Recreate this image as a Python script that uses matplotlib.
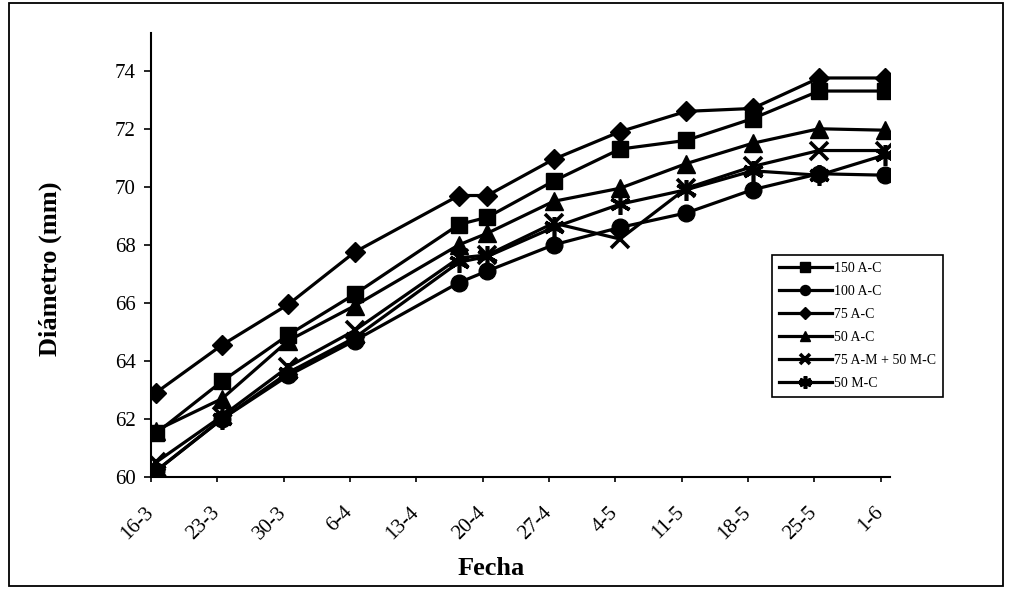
import pandas as pd
import matplotlib.pyplot as plt
from matplotlib.patches import Rectangle

#==============================
# Datos
#==============================
fechas = ["16-3", "23-3", "30-3", "6-4", "17-4", "20-4", "27-4", "4-5", "11-5", "18-5", "25-5", "1-6"]
etiquetas_x = ["16-3", "23-3", "30-3", "6-4", "13-4", "20-4", "27-4", "4-5", "11-5", "18-5", "25-5", "1-6"]

d150_AC = [61.5, 63.3, 64.9, 66.3, 68.7, 68.95, 70.2, 71.3, 71.6, 72.35, 73.3, 73.3]
d100_AC = [60.2, 62.0, 63.5, 64.7, 66.7, 67.1, 68.0, 68.6, 69.1, 69.9, 70.45, 70.4]
d75_AC = [62.9, 64.55, 65.95, 67.75, 69.7, 69.7, 70.95, 71.9, 72.6, 72.7, 73.75, 73.75]
d50_AC = [61.6, 62.7, 64.7, 65.9, 68.0, 68.4, 69.5, 69.95, 70.8, 71.5, 72.0, 71.95]
d75AM_50MC = [60.5, 62.1, 63.8, 65.05, 67.55, 67.65, 68.75, 68.2, 69.95, 70.7, 71.25, 71.25]
d50_MC = [60.2, 62.0, 63.6, 64.8, 67.4, 67.6, 68.6, 69.4, 69.9, 70.55, 70.4, 71.1]

#==============================
# Eje de fechas (dias desde 16-3)
#==============================
def a_fecha(s):
    return pd.to_datetime(s + "-2000", format="%d-%m-%Y")

inicio = a_fecha(fechas[0])
x = [(a_fecha(f) - inicio).days + 0.5 for f in fechas]  # puntos a mitad del dia, como Excel
ticks = [(a_fecha(f) - inicio).days for f in etiquetas_x]

plt.rcParams['font.family'] = ['Liberation Serif', 'DejaVu Serif']

fig = plt.figure(figsize=(10.14, 5.92), dpi=100)
ax = fig.add_axes([151/1014, 1-477/592, (890-151)/1014, (477-33)/592])

series = [
    ("150 A-C", d150_AC, dict(marker='s', ms=12)),
    ("100 A-C", d100_AC, dict(marker='o', ms=12)),
    ("75 A-C", d75_AC, dict(marker='D', ms=10)),
    ("50 A-C", d50_AC, dict(marker='^', ms=13)),
    ("75 A-M + 50 M-C", d75AM_50MC, dict(marker='x', ms=13, mew=2.6)),
    ("50 M-C", d50_MC, dict(marker=(6, 2, 0), ms=15, mew=2.6)),
]
for nombre, valores, estilo in series:
    ax.plot(x, valores, color='black', lw=2.3, label=nombre, **estilo)

ax.set_xlim(0, 78)
ax.set_ylim(60, 75.3)
ax.set_yticks(range(60, 75, 2))
ax.set_xticks(ticks)
ax.set_xticklabels(etiquetas_x, rotation=45, ha='right', va='center', rotation_mode='anchor')

for s in ['top', 'right']:
    ax.spines[s].set_visible(False)
for s in ['left', 'bottom']:
    ax.spines[s].set_linewidth(1.5)

ax.tick_params(axis='y', direction='out', length=5, width=1.2, labelsize=15, pad=6)
ax.tick_params(axis='x', direction='out', length=3.5, width=1.2, labelsize=15, pad=20)

ax.set_ylabel("Diámetro (mm)", fontsize=19, fontweight='bold')
ax.yaxis.set_label_coords((62-151)/(890-151), (477-269)/(477-33))
ax.set_xlabel("Fecha", fontsize=19, fontweight='bold')
ax.xaxis.set_label_coords((491-151)/(890-151), -(557-477)/(477-33))

leg = ax.legend(loc='upper left', bbox_to_anchor=((772-151)/(890-151), (477-255)/(477-33)),
                borderaxespad=0, fontsize=10, markerscale=0.6, handlelength=3.8,
                handletextpad=0.15, labelspacing=0.72, borderpad=0.5,
                fancybox=False, framealpha=1)
leg.get_frame().set_edgecolor('black')
leg.get_frame().set_linewidth(1.2)

# marco exterior
fig.patches.append(Rectangle((9/1014, 1-586/592), (1003-9)/1014, (586-3)/592,
                             transform=fig.transFigure, fill=False, edgecolor='black', lw=1.3))

plt.savefig('out.png', dpi=100)
